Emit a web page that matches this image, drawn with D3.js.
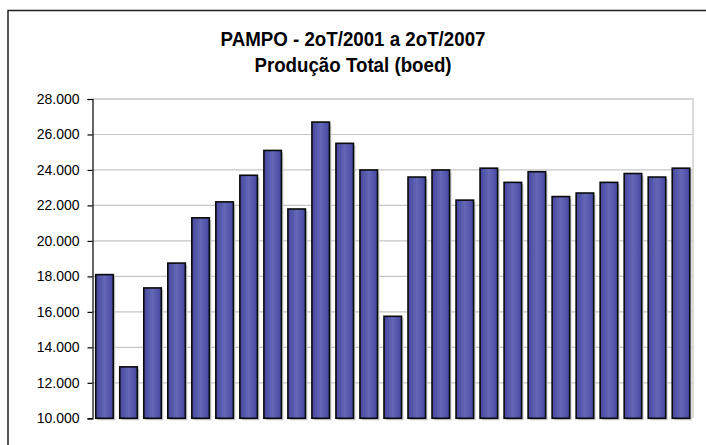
<!DOCTYPE html>
<html>
<head>
<meta charset="utf-8">
<script src="https://cdn.jsdelivr.net/npm/d3@7"></script>
<style>
  html, body { margin: 0; padding: 0; background: #fff; }
  svg { display: block; }
</style>
</head>
<body>
<svg id="chart" width="706" height="445"></svg>
<script>
// Quarterly total production, Pampo field (boed)
const periods = d3.range(1, 26).map(i => "T" + i);
const production = [
  18100, 12900, 17350, 18750, 21300, 22200, 23700, 25100, 21800, 26700,
  25500, 24000, 15750, 23600, 24000, 22300, 24100, 23300, 23900, 22500,
  22700, 23300, 23800, 23600, 24100
];
const yTicks = [10000, 12000, 14000, 16000, 18000, 20000, 22000, 24000, 26000, 28000];
const titleLines = ["PAMPO - 2oT/2001 a 2oT/2007", "Produção Total (boed)"];

const svg = d3.select("#chart");
const W = 706, H = 445;
const plot = { left: 92.5, right: 693, top: 99, bottom: 418.3 };

// outer chart frame
svg.append("rect")
  .attr("x", 8).attr("y", 10.5)
  .attr("width", W + 20).attr("height", H + 20)
  .attr("fill", "#fff").attr("stroke", "#222").attr("stroke-width", 1.5);

// title
const title = svg.append("text")
  .attr("text-anchor", "middle")
  .attr("font-family", "Liberation Sans, Arial, sans-serif")
  .attr("font-weight", "bold").attr("font-size", 19.5).attr("fill", "#000")
  .attr("transform", "translate(353,0) scale(0.96,1)");
titleLines.forEach((t, i) => {
  title.append("tspan").attr("x", 0).attr("y", 46.5 + i * 26).text(t);
});

const x = d3.scaleBand().domain(periods).range([plot.left, plot.right])
  .paddingInner(0.27).paddingOuter(0.135);
const y = d3.scaleLinear().domain([10000, 28000]).range([plot.bottom, plot.top]);

// grid lines
svg.append("g").selectAll("line").data(yTicks.filter(v => v > 10000)).join("line")
  .attr("x1", plot.left).attr("x2", plot.right)
  .attr("y1", d => y(d)).attr("y2", d => y(d))
  .attr("stroke", "#c6c6c6").attr("stroke-width", 1.2);

// plot area border (top/right)
svg.append("path")
  .attr("d", `M${plot.left},${plot.top}H${plot.right}V${plot.bottom}`)
  .attr("fill", "none").attr("stroke", "#cfcfcf").attr("stroke-width", 1.5);

// bar gradient
const defs = svg.append("defs");
const grad = defs.append("linearGradient").attr("id", "barFill")
  .attr("x1", "0").attr("x2", "1").attr("y1", "0").attr("y2", "0");
grad.append("stop").attr("offset", "0%").attr("stop-color", "#44479c");
grad.append("stop").attr("offset", "50%").attr("stop-color", "#6467b6");
grad.append("stop").attr("offset", "100%").attr("stop-color", "#4447a0");

// bar shadows
svg.append("g").selectAll("rect").data(production).join("rect")
  .attr("x", (d, i) => x(periods[i]) + 2)
  .attr("y", d => y(d) + 2)
  .attr("width", x.bandwidth())
  .attr("height", d => plot.bottom - y(d))
  .attr("fill", "#cfcfcf");

// bars
svg.append("g").selectAll("rect").data(production).join("rect")
  .attr("x", (d, i) => x(periods[i]))
  .attr("y", d => y(d))
  .attr("width", x.bandwidth())
  .attr("height", d => plot.bottom - y(d))
  .attr("fill", "url(#barFill)")
  .attr("stroke", "#0a0a0a").attr("stroke-width", 1.6);

// y axis
const fmt = d3.formatLocale({ decimal: ",", thousands: ".", grouping: [3], currency: ["", ""] }).format(",");
const yAxis = svg.append("g")
  .attr("transform", `translate(${plot.left},0)`)
  .call(d3.axisLeft(y).tickValues(yTicks).tickFormat(fmt).tickSize(5).tickPadding(8));
yAxis.select(".domain").attr("stroke", "#000").attr("stroke-width", 1.2);
yAxis.selectAll(".tick line").attr("stroke", "#000").attr("stroke-width", 1.2);
yAxis.selectAll(".tick text")
  .attr("font-family", "Liberation Sans, Arial, sans-serif")
  .attr("font-size", 14).attr("fill", "#000");
</script>
</body>
</html>
